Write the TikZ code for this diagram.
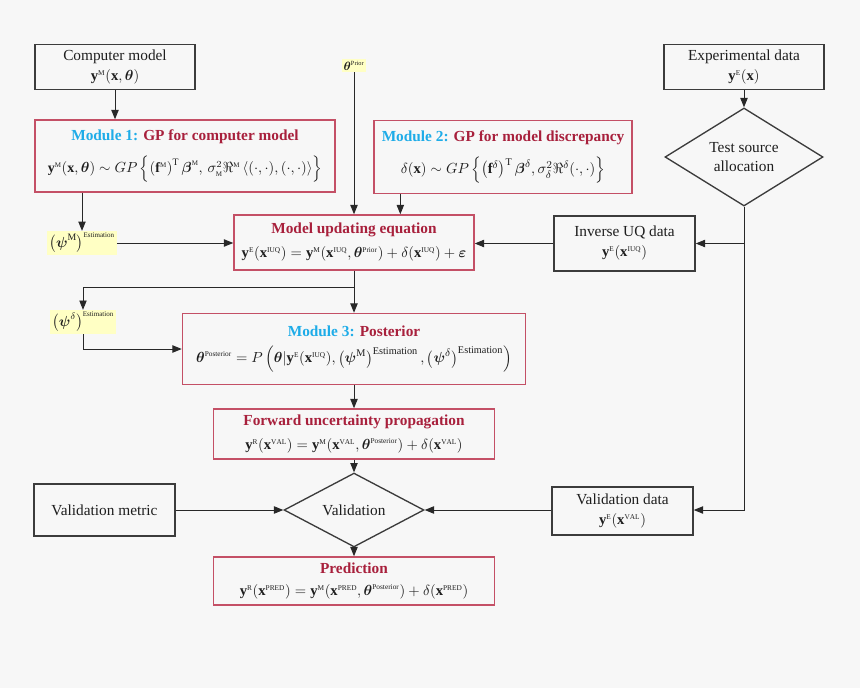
\documentclass[tikz,border=0pt]{standalone}
\usepackage{amsmath}
\usepackage{fontspec}
\setmainfont{Liberation Serif}
\usetikzlibrary{shapes.geometric,arrows.meta}

\definecolor{bgcol}{RGB}{247,247,247}
\definecolor{txtcol}{RGB}{30,30,30}
\definecolor{boxgray}{RGB}{60,60,60}
\definecolor{linecol}{RGB}{40,40,40}
\definecolor{modborder}{RGB}{196,80,102}
\definecolor{modred}{RGB}{168,32,60}
\definecolor{modblue}{RGB}{30,172,232}
\definecolor{hlyellow}{RGB}{255,255,196}

\newcommand{\modtitle}[2]{\textbf{\textcolor{modblue}{#1}\textcolor{modred}{#2}}}
\newcommand{\tsp}[1]{^{\scriptscriptstyle\mathrm{#1}}}
\newcommand{\eqsz}{\fontsize{11}{12}\selectfont}

\begin{document}
\begin{tikzpicture}[x=0.75pt, y=-0.75pt,
    plainbox/.style={rectangle, draw=boxgray, line width=1.1pt, fill=bgcol, text=txtcol,
        align=center, inner sep=1pt, font=\fontsize{11.5}{14}\selectfont},
    modbox/.style={plainbox, draw=modborder},
    decide/.style={diamond, draw=boxgray, line width=1pt, fill=bgcol, text=txtcol,
        align=center, inner sep=0pt, font=\fontsize{11.5}{14}\selectfont},
    estlabel/.style={fill=hlyellow, text=txtcol, inner sep=1.5pt, font=\fontsize{10.5}{11}\selectfont},
    arr/.style={draw=linecol, line width=0.7pt, -{Triangle[length=7pt,width=5.5pt]}}]

    \fill[bgcol] (0,0) rectangle (860,688);

    % top row
    \node[plainbox, minimum width=120pt, minimum height=33.75pt] (cm) at (115,67)
        {Computer model\\[1pt] {\eqsz$\mathbf{y}\tsp{M}(\mathbf{x},\boldsymbol{\theta})$}};

    \node[estlabel, font=\fontsize{9.5}{10}\selectfont] (thetaP) at (354,65.5) {$\boldsymbol{\theta}\tsp{Prior}$};

    \node[plainbox, minimum width=120pt, minimum height=33.75pt] (exp) at (744,67)
        {Experimental data\\[1pt] {\eqsz$\mathbf{y}\tsp{E}(\mathbf{x})$}};

    % GP modules
    \node[modbox, minimum width=225pt, minimum height=54pt] (mod1) at (185,156)
        {\modtitle{Module 1: }{GP for computer model}\\[8pt]
        {\fontsize{10.5}{12}\selectfont$\mathbf{y}\tsp{M}(\mathbf{x},\boldsymbol{\theta})\sim GP\left\{\left(\mathbf{f}\tsp{M}\right)^{\mathrm{T}}\boldsymbol{\beta}\tsp{M},\,\sigma_{\scriptscriptstyle\mathrm{M}}^{2}\Re\tsp{M}\left\langle(\cdot,\cdot),(\cdot,\cdot)\right\rangle\right\}$}};

    \node[modbox, minimum width=193.5pt, minimum height=54.75pt] (mod2) at (503,157)
        {\modtitle{Module 2: }{GP for model discrepancy}\\[8pt]
        {\eqsz$\delta(\mathbf{x})\sim GP\left\{\left(\mathbf{f}^{\delta}\right)^{\mathrm{T}}\boldsymbol{\beta}^{\delta},\sigma_{\delta}^{2}\Re^{\delta}(\cdot,\cdot)\right\}$}};

    \node[decide, minimum width=118.5pt, minimum height=54pt] (tsa) at (744,157)
        {Test source\\ allocation};

    \draw[arr] (cm.south) -- (cm.south |- mod1.north);
    \draw[arr] (exp) -- (tsa);

    % model updating
    \node[estlabel] (psiM) at (82,243)
        {$\left(\boldsymbol{\psi}^{\mathrm{M}}\right)\tsp{Estimation}$};

    \node[modbox, minimum width=180pt, minimum height=41.25pt] (upd) at (354,242.5)
        {\textbf{\textcolor{modred}{Model updating equation}}\\[4pt]
        {\eqsz$\mathbf{y}\tsp{E}(\mathbf{x}\tsp{IUQ})=\mathbf{y}\tsp{M}(\mathbf{x}\tsp{IUQ},\boldsymbol{\theta}\tsp{Prior})+\delta(\mathbf{x}\tsp{IUQ})+\boldsymbol{\varepsilon}$}};

    \node[plainbox, minimum width=105.75pt, minimum height=41.25pt] (iuq) at (624.5,243.5)
        {Inverse UQ data\\[1pt] {\eqsz$\mathbf{y}\tsp{E}(\mathbf{x}\tsp{IUQ})$}};

    \draw[arr] (psiM |- mod1.south) -- (psiM.north);
    \draw[arr] (psiM.east) -- (psiM.east -| upd.west);
    \draw[arr] (thetaP.south) -- (thetaP.south |- upd.north);
    \draw[arr] ([xshift=-77pt]mod2.south) -- ([xshift=-77pt]mod2.south |- upd.north);
    \draw[arr] (tsa.south |- iuq.east) -- (iuq.east);
    \draw[arr] (iuq.west) -- (iuq.west -| upd.east);

    % posterior
    \node[estlabel] (psiD) at (83,322)
        {$\left(\boldsymbol{\psi}^{\delta}\right)\tsp{Estimation}$};

    \node[modbox, minimum width=257.25pt, minimum height=53.25pt] (mod3) at (354,349)
        {\modtitle{Module 3: }{Posterior}\\[6pt]
        {\eqsz$\boldsymbol{\theta}\tsp{Posterior}=P\left(\boldsymbol{\theta}|\mathbf{y}\tsp{E}(\mathbf{x}\tsp{IUQ}),\left(\boldsymbol{\psi}^{\mathrm{M}}\right)^{\mathrm{Estimation}},\left(\boldsymbol{\psi}^{\delta}\right)^{\mathrm{Estimation}}\right)$}};

    \coordinate (split) at (354,287);
    \draw[arr] (upd.south) -- (mod3.north);
    \draw[arr] (split) -| (psiD.north);
    \draw[arr] (psiD.south) |- (mod3.west);

    % forward propagation and validation
    \node[modbox, minimum width=210.75pt, minimum height=37.5pt] (fwd) at (354,434)
        {\textbf{\textcolor{modred}{Forward uncertainty propagation}}\\[4pt]
        {\eqsz$\mathbf{y}\tsp{R}(\mathbf{x}\tsp{VAL})=\mathbf{y}\tsp{M}(\mathbf{x}\tsp{VAL},\boldsymbol{\theta}\tsp{Posterior})+\delta(\mathbf{x}\tsp{VAL})$}};

    \node[decide, minimum width=105pt, minimum height=39pt] (val) at (354,510) {Validation};

    \node[plainbox, minimum width=105.75pt, minimum height=39pt] (vmet) at (104.5,510)
        {Validation metric};

    \node[plainbox, minimum width=105.75pt, minimum height=36pt] (vdat) at (622.5,511)
        {Validation data\\[1pt] {\eqsz$\mathbf{y}\tsp{E}(\mathbf{x}\tsp{VAL})$}};

    \node[modbox, minimum width=210.75pt, minimum height=36pt] (pred) at (354,581)
        {\textbf{\textcolor{modred}{Prediction}}\\[3pt]
        {\eqsz$\mathbf{y}\tsp{R}(\mathbf{x}\tsp{PRED})=\mathbf{y}\tsp{M}(\mathbf{x}\tsp{PRED},\boldsymbol{\theta}\tsp{Posterior})+\delta(\mathbf{x}\tsp{PRED})$}};

    \draw[arr] (mod3) -- (fwd);
    \draw[arr] (fwd) -- (val);
    \draw[arr] (val) -- (pred);
    \draw[arr] (vmet) -- (val);
    \draw[arr] (vdat.west |- val.east) -- (val.east);
    \draw[arr] (tsa.south) |- (val.east -| vdat.east);

\end{tikzpicture}
\end{document}
